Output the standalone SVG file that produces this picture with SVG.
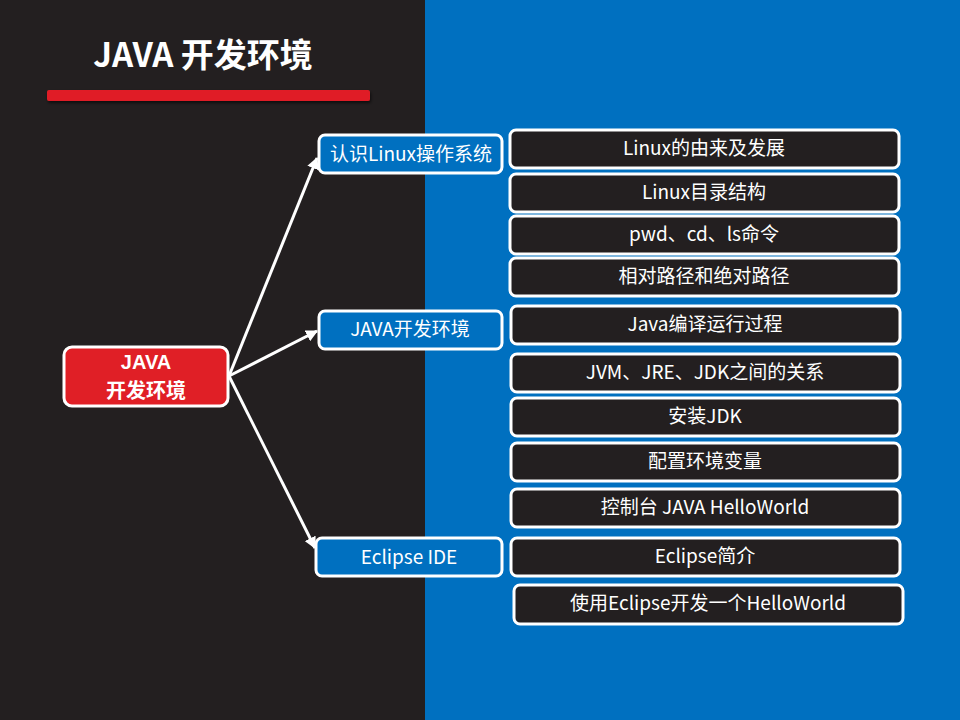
<svg xmlns="http://www.w3.org/2000/svg" width="960" height="720" viewBox="0 0 960 720">
<defs>
<style>
text{font-family:"Noto Sans CJK SC","Liberation Sans",sans-serif;fill:#fff;text-anchor:middle}
.leaf rect{fill:#231f20;stroke:#fff;stroke-width:3}
.leaf text{font-size:19px}
.branch rect{fill:#0070c0;stroke:#fff;stroke-width:3}
.branch text{font-size:19px}
.conn line{stroke:#fff;stroke-width:3;marker-end:url(#ah)}
</style>
<marker id="ah" viewBox="0 0 10 10" refX="9" refY="5" markerWidth="4" markerHeight="4" orient="auto" markerUnits="strokeWidth">
<path d="M0,0 L10,5 L0,10 z" fill="#fff"/>
</marker>
<filter id="sh" x="-5%" y="-50%" width="110%" height="250%">
<feDropShadow dx="1" dy="2" stdDeviation="1.5" flood-color="#000" flood-opacity="0.6"/>
</filter>
</defs>
<rect x="0" y="0" width="425" height="720" fill="#231f20"/>
<rect x="425" y="0" width="535" height="720" fill="#0070c0"/>
<g id="title">
<text x="203" y="67" font-size="33" font-weight="bold">JAVA 开发环境</text>
<rect x="47" y="90" width="323" height="11" rx="2" fill="#e01e26" filter="url(#sh)"/>
</g>
<g id="connectors" class="conn">
<line x1="229" y1="376" x2="317" y2="158"/>
<line x1="229" y1="376" x2="317" y2="331"/>
<line x1="229" y1="376" x2="315" y2="548"/>
</g>
<g id="root">
<rect x="64" y="347" width="164" height="59" rx="8" fill="#e01f26" stroke="#fff" stroke-width="3"/>
<text x="146" y="369" font-size="20" font-weight="bold" style="font-family:'Liberation Sans',sans-serif">JAVA</text>
<text x="146" y="398" font-size="20" font-weight="bold">开发环境</text>
</g>
<g id="b1" class="branch"><rect x="319" y="135" width="183" height="38" rx="6"/><text x="411" y="161">认识Linux操作系统</text></g>
<g id="b2" class="branch"><rect x="319" y="311" width="183" height="38" rx="6"/><text x="410" y="336">JAVA开发环境</text></g>
<g id="b3" class="branch"><rect x="316" y="538" width="186" height="38" rx="6"/><text x="409" y="564">Eclipse IDE</text></g>
<g id="l1" class="leaf"><rect x="510" y="130" width="389" height="38" rx="6"/><text x="704" y="155">Linux的由来及发展</text></g>
<g id="l2" class="leaf"><rect x="510" y="174" width="389" height="38" rx="6"/><text x="704" y="199">Linux目录结构</text></g>
<g id="l3" class="leaf"><rect x="510" y="216" width="389" height="38" rx="6"/><text x="704" y="241">pwd、cd、ls命令</text></g>
<g id="l4" class="leaf"><rect x="510" y="258" width="389" height="38" rx="6"/><text x="704" y="283">相对路径和绝对路径</text></g>
<g id="l5" class="leaf"><rect x="511" y="306" width="389" height="38" rx="6"/><text x="705" y="331">Java编译运行过程</text></g>
<g id="l6" class="leaf"><rect x="511" y="354" width="389" height="38" rx="6"/><text x="705" y="379">JVM、JRE、JDK之间的关系</text></g>
<g id="l7" class="leaf"><rect x="511" y="398" width="389" height="38" rx="6"/><text x="705" y="423">安装JDK</text></g>
<g id="l8" class="leaf"><rect x="511" y="443" width="389" height="38" rx="6"/><text x="705" y="468">配置环境变量</text></g>
<g id="l9" class="leaf"><rect x="511" y="489" width="389" height="38" rx="6"/><text x="705" y="514">控制台 JAVA HelloWorld</text></g>
<g id="l10" class="leaf"><rect x="511" y="538" width="389" height="38" rx="6"/><text x="705" y="563">Eclipse简介</text></g>
<g id="l11" class="leaf"><rect x="514" y="585" width="389" height="39" rx="6"/><text x="708" y="610">使用Eclipse开发一个HelloWorld</text></g>
</svg>
